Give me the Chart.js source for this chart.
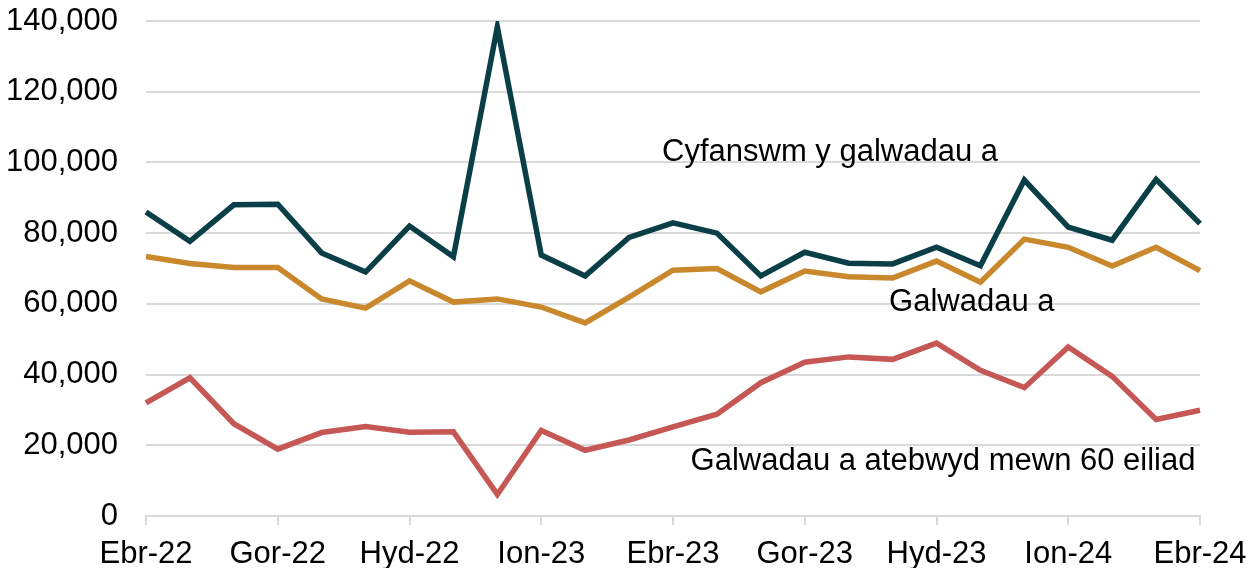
<!DOCTYPE html>
<html>
<head>
<meta charset="utf-8">
<script src="https://cdn.jsdelivr.net/npm/chart.js@4/dist/chart.umd.min.js"></script>
<style>
  html, body { margin: 0; padding: 0; background: #ffffff; }
  #wrap { width: 1257px; height: 569px; position: relative; }
</style>
</head>
<body>
<div id="wrap"><canvas id="c" width="1257" height="569"></canvas></div>
<script>
const months = ['Ebr-22','Mai-22','Meh-22','Gor-22','Aws-22','Med-22','Hyd-22','Tach-22','Rhag-22',
  'Ion-23','Chwe-23','Maw-23','Ebr-23','Mai-23','Meh-23','Gor-23','Aws-23','Med-23','Hyd-23','Tach-23','Rhag-23',
  'Ion-24','Chwe-24','Maw-24','Ebr-24'];

const totalCalls = [86000, 77700, 88000, 88200, 74400, 69000, 82000, 73300, 138300,
  73800, 67900, 78800, 82900, 80000, 67900, 74600, 71500, 71300, 76000, 70800, 95000,
  81700, 78000, 95200, 82700];

const answeredCalls = [73400, 71400, 70300, 70300, 61400, 58800, 66500, 60500, 61400,
  59100, 54600, 61900, 69500, 70000, 63400, 69300, 67700, 67300, 72100, 66100, 78300,
  76000, 70700, 76000, 69400];

const answered60s = [32000, 39100, 26100, 18900, 23600, 25300, 23700, 23800, 6100,
  24200, 18600, 21500, 25200, 28800, 37700, 43500, 45000, 44300, 48900, 41200, 36300,
  47800, 39500, 27300, 29900];

const yTicks = [0, 20000, 40000, 60000, 80000, 100000, 120000, 140000];

const seriesNames = ['Cyfanswm y galwadau a', 'Galwadau a', 'Galwadau a atebwyd mewn 60 eiliad'];
// label anchor positions in data space: [x index, y value]
const labelAnchors = [[11.75, 102700], [16.92, 60400], [12.4, 15300]];

const FONT = '"Liberation Sans", Arial, sans-serif';
const FS = 31;

const labelPlugin = {
  id: 'seriesLabels',
  afterDatasetsDraw(chart) {
    const ctx = chart.ctx;
    const xs = chart.scales.x, ys = chart.scales.y;
    ctx.save();
    ctx.font = FS + 'px ' + FONT;
    ctx.fillStyle = '#000000';
    ctx.textAlign = 'left';
    ctx.textBaseline = 'middle';
    seriesNames.forEach((name, i) => {
      const a = labelAnchors[i];
      ctx.fillText(name, xs.getPixelForValue(a[0]), ys.getPixelForValue(a[1]));
    });
    ctx.restore();
  }
};

new Chart(document.getElementById('c'), {
  type: 'line',
  data: {
    labels: months,
    datasets: [
      { label: seriesNames[0], data: totalCalls, borderColor: '#0b3f48', borderWidth: 5.5, pointRadius: 0, tension: 0 },
      { label: seriesNames[1], data: answeredCalls, borderColor: '#c9882c', borderWidth: 5.5, pointRadius: 0, tension: 0 },
      { label: seriesNames[2], data: answered60s, borderColor: '#c55855', borderWidth: 5.5, pointRadius: 0, tension: 0 }
    ]
  },
  options: {
    responsive: false,
    animation: false,
    devicePixelRatio: 1,
    layout: { padding: { left: 0, right: 57, top: 0, bottom: 1 } },
    plugins: { legend: { display: false }, tooltip: { enabled: false } },
    scales: {
      x: {
        offset: false,
        afterFit: (s) => { s.height = 52; s.paddingRight = 0; s.paddingLeft = 0; },
        grid: {
          drawOnChartArea: false,
          drawTicks: true,
          tickLength: 9,
          lineWidth: 2,
          color: (c) => (c.index % 3 === 0 ? '#d9d9d9' : 'rgba(0,0,0,0)')
        },
        border: { display: true, color: '#d9d9d9', width: 2 },
        ticks: {
          autoSkip: false,
          maxRotation: 0,
          minRotation: 0,
          padding: 14,
          color: '#000000',
          font: { family: FONT, size: FS, lineHeight: 1.0 },
          callback: function (v, i) { return i % 3 === 0 ? months[i] : ''; }
        }
      },
      y: {
        min: 0,
        max: 140000,
        afterFit: (s) => { s.width = 146; s.paddingTop = 21; s.paddingBottom = 0; },
        afterBuildTicks: (s) => { s.ticks = yTicks.map(v => ({ value: v })); },
        grid: { drawTicks: false, color: '#d9d9d9', lineWidth: 2 },
        border: { display: false },
        ticks: {
          padding: 28,
          color: '#000000',
          font: { family: FONT, size: FS },
          callback: (v) => v.toLocaleString('en-GB')
        }
      }
    }
  },
  plugins: [labelPlugin]
});
</script>
</body>
</html>
